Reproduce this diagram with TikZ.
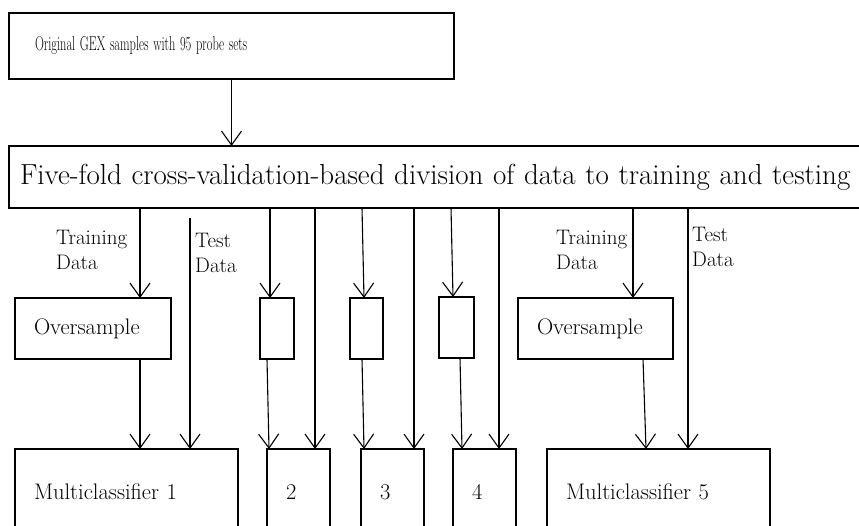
\documentclass[tikz,border=0pt]{standalone}
\usetikzlibrary{arrows.meta}
\begin{document}
\begin{tikzpicture}[x=1pt, y=-1pt,
  box/.style={draw, line width=2.6pt, outer sep=0pt, inner xsep=19pt, inner ysep=0pt,
    align=left, anchor=north west, font=\fontsize{22.5}{26}\selectfont},
  flow/.style={-{Straight Barb[length=14pt, width=20pt]}, line width=1.1pt},
  lbl/.style={anchor=west, align=left, inner sep=0pt, font=\fontsize{21}{25}\selectfont}]
    \useasboundingbox (0,0) rectangle (859,525);

    \node[box, text width=393pt, inner xsep=26pt, minimum height=66pt] (orig) at (9,13)
        {\scalebox{0.62}[1]{\fontsize{20}{22}\selectfont Original GEX samples with 95 probe sets}};
    \node[box, text width=849pt, inner xsep=11pt, minimum height=62pt,
        font=\fontsize{29}{32}\selectfont] (split) at (9,146)
        {Five-fold cross-validation-based division of data to training and testing};

    \node[box, text width=118pt, minimum height=61pt] (over1) at (15,298) {Oversample};
    \node[box, inner xsep=0pt, minimum width=34pt, minimum height=61pt] (fold2) at (260,298) {};
    \node[box, inner xsep=0pt, minimum width=33pt, minimum height=61pt] (fold3) at (350,298) {};
    \node[box, inner xsep=0pt, minimum width=35pt, minimum height=61pt] (fold4) at (439,297) {};
    \node[box, text width=117pt, minimum height=61pt] (over5) at (518,298) {Oversample};

    \node[box, text width=185pt, minimum height=86pt] (mc1) at (15,449) {Multiclassifier 1};
    \node[box, text width=25pt, minimum height=86pt] (mc2) at (267,449) {2};
    \node[box, text width=25pt, minimum height=86pt] (mc3) at (361,449) {3};
    \node[box, text width=25pt, minimum height=86pt] (mc4) at (453,449) {4};
    \node[box, text width=185pt, minimum height=86pt] (mc5) at (547,449) {Multiclassifier 5};

    \node[lbl] (train1) at (56,250) {Training\\Data};
    \node[lbl] (test1) at (195,253) {Test\\Data};
    \node[lbl] (train5) at (556,250) {Training\\Data};
    \node[lbl] (test5) at (692,247) {Test\\Data};

    \coordinate (t1) at (190,218);

    \draw[flow] (orig.south) -- (split.north -| orig.south);

    \draw[flow] (split.south -| 140,0) -- (over1.north -| 140,0);
    \draw[flow] (over1.south -| 140,0) -- (mc1.north -| 140,0);
    \draw[flow] (t1) -- (mc1.north -| t1);

    \draw[flow] (split.south -| 270,0) -- (fold2.north -| 270,0);
    \draw[flow] (fold2.south -| 267,0) -- (mc2.north -| 269,0);
    \draw[flow] (split.south -| 315,0) -- (mc2.north -| 315,0);

    \draw[flow] (split.south -| 362,0) -- (fold3.north -| 364,0);
    \draw[flow] (fold3.south -| 362,0) -- (mc3.north -| 364,0);
    \draw[flow] (split.south -| 414,0) -- (mc3.north -| 414,0);

    \draw[flow] (split.south -| 451,0) -- (fold4.north -| 453,0);
    \draw[flow] (fold4.south -| 460,0) -- (mc4.north -| 462,0);
    \draw[flow] (split.south -| 499,0) -- (mc4.north -| 499,0);

    \draw[flow] (split.south -| 633,0) -- (over5.north -| 633,0);
    \draw[flow] (over5.south -| 643,0) -- (mc5.north -| 646,0);
    \draw[flow] (split.south -| 688,0) -- (mc5.north -| 688,0);
\end{tikzpicture}
\end{document}
